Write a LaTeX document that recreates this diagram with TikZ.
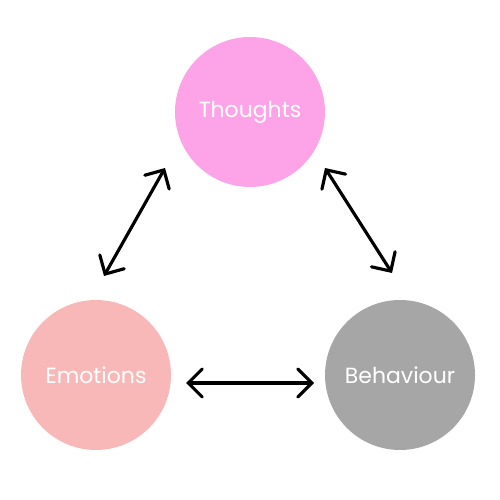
\documentclass[tikz,border=0pt]{standalone}
\usepackage{fontspec}
\setmainfont{Poppins}
\usetikzlibrary{arrows.meta}
\definecolor{thpink}{HTML}{FDA4E8}
\definecolor{empink}{HTML}{F9B8B8}
\definecolor{begray}{HTML}{A6A6A6}
\tikzset{
  bubble/.style={circle, minimum size=3cm, inner sep=0pt, text=white, font=\fontsize{12.5}{14}\selectfont},
  link/.style={line width=1.8pt, line cap=round, {Straight Barb[length=2.8mm,width=5.6mm,line cap=round]}-{Straight Barb[length=2.8mm,width=5.6mm,line cap=round]}}
}
\begin{document}
\begin{tikzpicture}
\useasboundingbox (0,0) rectangle (10,10);
\node[bubble, fill=thpink] (th) at (5,7.76) {Thoughts};
\node[bubble, fill=empink] (em) at (1.92,2.5) {Emotions};
\node[bubble, fill=begray] (be) at (8,2.5) {Behaviour};
\coordinate (a1) at (2.08,4.48);
\coordinate (a2) at (3.3,6.64);
\coordinate (b1) at (6.5,6.64);
\coordinate (b2) at (7.84,4.54);
\coordinate (c1) at (3.72,2.34);
\coordinate (c2) at (6.28,2.34);
\draw[link] (a1) -- (a2);
\draw[link] (b1) -- (b2);
\draw[link] (c1) -- (c2);
\end{tikzpicture}
\end{document}
